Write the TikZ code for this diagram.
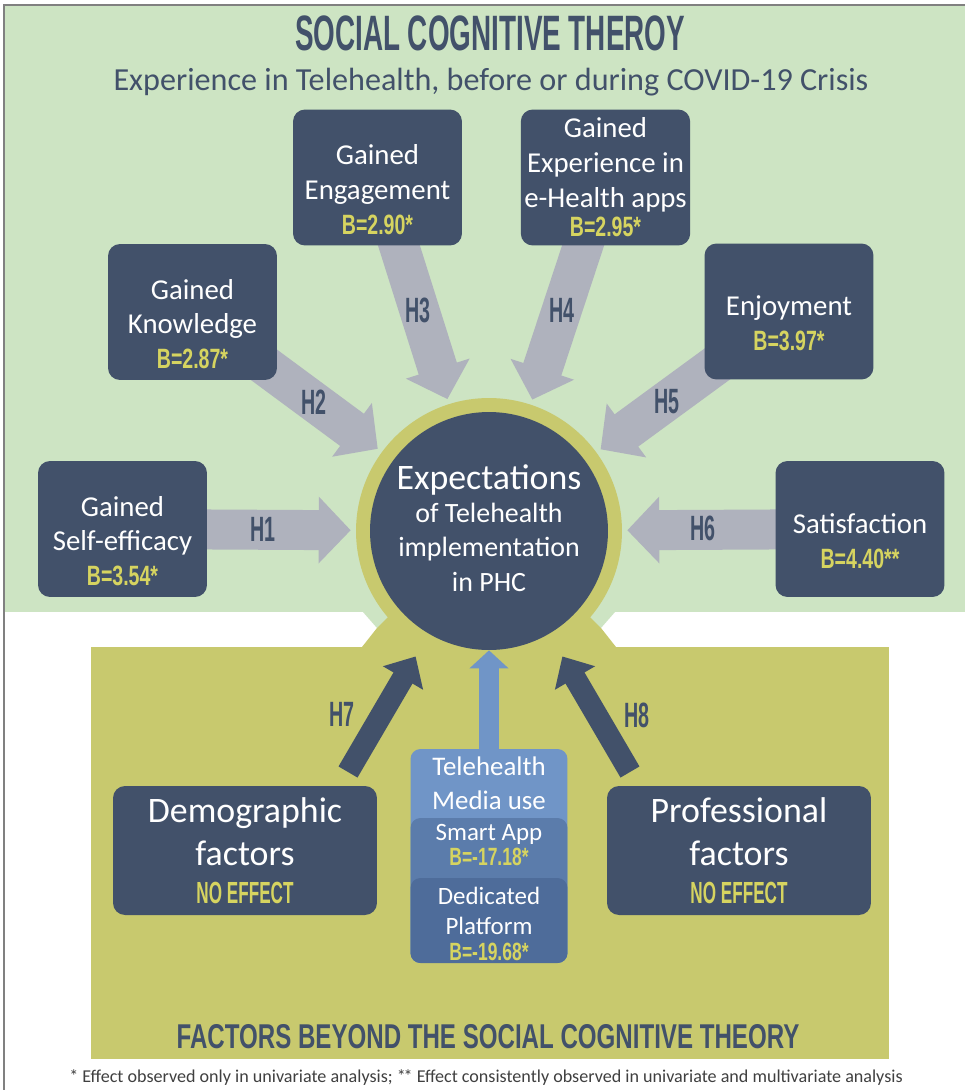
\documentclass[tikz,border=0pt]{standalone}
\usepackage{fontspec}
\setmainfont{Carlito}
\newfontfamily\headfont[FakeStretch=0.56]{Liberation Sans}
\newfontfamily\valfont[FakeStretch=0.7]{Liberation Sans}
\usetikzlibrary{arrows.meta}

\definecolor{navy}{RGB}{66,81,106}
\definecolor{leaf}{RGB}{205,228,195}
\definecolor{olive}{RGB}{200,201,110}
\definecolor{gold}{RGB}{214,212,96}
\definecolor{steel}{RGB}{175,178,189}
\definecolor{skyblue}{RGB}{112,149,199}
\definecolor{midblue}{RGB}{91,124,171}
\definecolor{deepblue}{RGB}{78,108,154}

\pgfdeclarelayer{back}
\pgfdeclarelayer{links}
\pgfsetlayers{back,links,main}

\newcommand{\bval}[2][15.9]{{\color{gold}\valfont\bfseries\fontsize{#1}{#1}\selectfont #2}}
\newcommand{\noeffect}{{\color{gold}\headfont\bfseries\fontsize{17.4}{17.4}\selectfont NO EFFECT}}
% pushes the text of a box a little below its middle
\newcommand{\lift}{\rule{0pt}{0.88cm}}

\tikzset{
  box/.style={fill=navy, rounded corners=0.24cm, text=white, align=center,
    minimum width=3.38cm, minimum height=2.72cm, inner sep=2pt,
    font=\fontsize{16.4}{19.8}\selectfont},
  bigbox/.style={box, minimum width=5.28cm, minimum height=2.58cm,
    font=\fontsize{20.4}{24.4}\selectfont},
  mediabox/.style={rounded corners=0.2cm, minimum width=3.14cm, inner sep=0pt},
  mtext/.style={text=white, align=center, font=\fontsize{15.3}{19.3}\selectfont},
  hyp/.style={text=navy, font=\headfont\bfseries\fontsize{20}{20}\selectfont},
  grayarrow/.style={draw=steel, line width=0.8cm,
    -{Triangle[length=0.64cm,width=1.3cm]}, shorten >=0.1cm},
  darkarrow/.style={draw=navy, line width=0.44cm,
    -{Triangle[length=0.5cm,width=0.9cm]}, shorten >=0.24cm},
  bluearrow/.style={draw=skyblue, line width=0.4cm,
    -{Triangle[length=0.36cm,width=0.76cm]}}
}

\begin{document}
\begin{tikzpicture}[x=0.02cm, y=-0.02cm]
\useasboundingbox (0,0) rectangle (965,1090);

% Panels
\begin{pgfonlayer}{back}
  \fill[white] (0,0) rectangle (965,1090);
  \fill[leaf] (5,6) rectangle (965,612);
  \fill[leaf] (363,612) -- (377,628) -- (601,628) -- (615,612) -- cycle;
  \fill[olive] (91,647) rectangle (889,1059);
  \fill[olive] (362,647) -- (377,628) -- (390,615) -- (588,615) -- (601,628) -- (616,647) -- cycle;
  \draw[gray, line width=0.05cm] (4,1090) -- (4,5) -- (965,5);
  \node[circle, fill=olive, minimum size=5.32cm, inner sep=0pt] (ring) at (489,531) {};
\end{pgfonlayer}

% Headings
\node[anchor=base, text=navy, font=\headfont\bfseries\fontsize{28.3}{30}\selectfont] (title) at (490,50) {SOCIAL COGNITIVE THEROY};
\node[anchor=base, text=navy, font=\fontsize{18.3}{20}\selectfont] (subtitle) at (491,90) {Experience in Telehealth, before or during COVID-19 Crisis};
\node[anchor=base, text=navy, font=\valfont\bfseries\fontsize{19.6}{20}\selectfont] (beyond) at (488,1048) {FACTORS BEYOND THE SOCIAL COGNITIVE THEORY};
\node[anchor=base, text=black!75, font=\fontsize{10.3}{11}\selectfont] (note) at (486,1082) {* Effect observed only in univariate analysis; *\kern-0.12em* Effect consistently observed in univariate and multivariate analysis};

% Define vertices
\node[circle, fill=navy, minimum size=4.76cm, inner sep=0pt, text=white, align=center,
  font=\fontsize{15.9}{19.8}\selectfont] (expect) at (489,531)
  {{\fontsize{20.4}{20.4}\selectfont Expectations}\\[-1pt]of Telehealth\\implementation\\in PHC\rule[-0.12cm]{0pt}{0pt}};

\node[box] (engage) at (377.5,177.5) {\lift Gained\\Engagement\\\bval{B=2.90*}};
\node[box] (ehealth) at (605.5,177.5) {Gained\\Experience in\\e-Health apps\\[-3pt]\bval{B=2.95*}};
\node[box] (know) at (192.5,312) {\lift Gained\\Knowledge\\\bval{B=2.87*}};
\node[box] (enjoy) at (789,311.5) {\lift Enjoyment\\\bval{B=3.97*}};
\node[box] (selfeff) at (122.5,529) {\lift Gained\\Self-efficacy\\\bval{B=3.54*}};
\node[box] (satis) at (860,529) {\lift Satisfaction\\\bval{B=4.40**}};

\node[bigbox] (demo) at (245,850.5) {Demographic\\factors\\[-3pt]\noeffect};
\node[bigbox] (prof) at (739,850.5) {Professional\\factors\\[-3pt]\noeffect};

\node[mediabox, fill=skyblue, minimum height=4.28cm] (media) at (489,856) {};
\node[mediabox, fill=midblue, minimum height=2.9cm] (smart) at (489,890.5) {};
\node[mediabox, fill=deepblue, minimum height=1.7cm] (platform) at (489,920.5) {};
\node[mtext] (mediaT) at (489,783) {Telehealth\\Media use};
\node[mtext, font=\fontsize{14.2}{14.2}\selectfont] (smartT) at (489,845) {Smart App\\\bval[14.2]{B=-17.18*}};
\node[mtext, font=\fontsize{14.2}{17}\selectfont] (platformT) at (489,924) {Dedicated\\Platform\\[-2pt]\bval[14.2]{B=-19.68*}};

\coordinate (h7s) at (348,772);
\coordinate (h8s) at (630,772);

% Draw edges
\begin{pgfonlayer}{links}
  \path
    (selfeff.center) edge[grayarrow] (ring)
    (know.center) edge[grayarrow] (ring)
    (engage.center) edge[grayarrow] (ring)
    (ehealth.center) edge[grayarrow] (ring)
    (enjoy.center) edge[grayarrow] (ring)
    (satis.center) edge[grayarrow] (ring)
    (h7s) edge[darkarrow] (ring)
    (h8s) edge[darkarrow] (ring)
    (media) edge[bluearrow] (expect);
\end{pgfonlayer}

% Hypothesis labels
\node[hyp] (H1) at (263,529) {H1};
\node[hyp] (H2) at (314,402) {H2};
\node[hyp] (H3) at (418,310) {H3};
\node[hyp] (H4) at (562,310) {H4};
\node[hyp] (H5) at (667,402) {H5};
\node[hyp] (H6) at (703,528) {H6};
\node[hyp] (H7) at (342,714) {H7};
\node[hyp] (H8) at (637,715) {H8};

\end{tikzpicture}
\end{document}
